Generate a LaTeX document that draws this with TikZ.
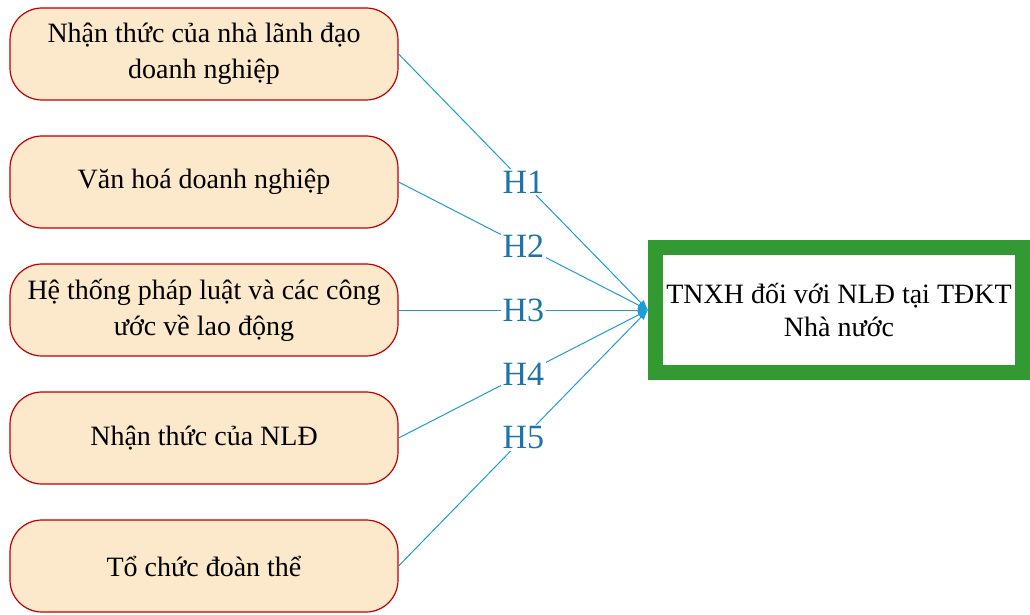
\documentclass[tikz,border=0pt]{standalone}
\usepackage{fontspec}
\setmainfont{Liberation Serif}
\usetikzlibrary{arrows.meta}
\definecolor{boxfill}{HTML}{FCE8CA}
\definecolor{boxline}{HTML}{C00000}
\definecolor{linkblue}{HTML}{1E9AD6}
\definecolor{labelblue}{HTML}{1B75A8}
\definecolor{framegreen}{HTML}{339933}
\begin{document}
\begin{tikzpicture}[x=1pt,y=-1pt,
  factor/.style={draw=boxline, line width=1.2pt, fill=boxfill, rounded corners=32pt,
    minimum width=388pt, minimum height=92pt, align=center, inner sep=0pt,
    font=\fontsize{28}{36}\selectfont},
  outcome/.style={draw=framegreen, line width=15pt, fill=white,
    minimum width=367pt, minimum height=125pt, align=center, inner sep=0pt,
    font=\fontsize{28}{33}\selectfont},
  link/.style={draw=linkblue, line width=1pt, -{Latex[length=10pt,width=8pt]}},
  hyp/.style={fill=white, text=labelblue, inner sep=2pt, font=\fontsize{34}{34}\selectfont}
]
\useasboundingbox (0,0) rectangle (1030,615);

% influencing factors
\node[factor] (f1) at (204,54)  {Nhận thức của nhà lãnh đạo\\doanh nghiệp};
\node[factor] (f2) at (204,182) {Văn hoá doanh nghiệp};
\node[factor] (f3) at (204,310) {Hệ thống pháp luật và các công\\ước về lao động};
\node[factor] (f4) at (204,438) {Nhận thức của NLĐ};
\node[factor] (f5) at (204,566) {Tổ chức đoàn thể};

% outcome
\node[outcome] (out) at (839,310) {TNXH đối với NLĐ tại TĐKT\\Nhà nước};

% hypotheses
\draw[link] (f1.east) -- node[hyp] {H1} (out.west);
\draw[link] (f2.east) -- node[hyp] {H2} (out.west);
\draw[link] (f3.east) -- node[hyp] {H3} (out.west);
\draw[link] (f4.east) -- node[hyp] {H4} (out.west);
\draw[link] (f5.east) -- node[hyp] {H5} (out.west);
\end{tikzpicture}
\end{document}
